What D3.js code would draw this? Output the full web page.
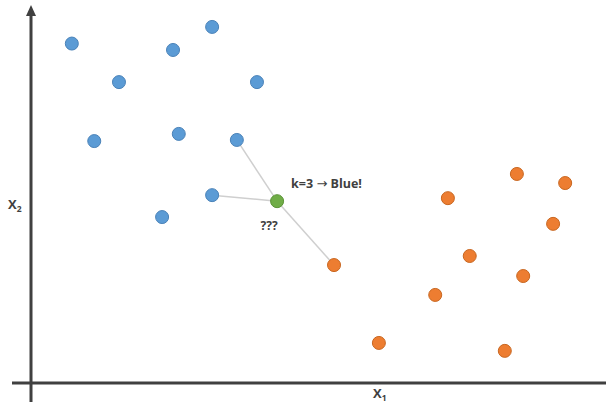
<!DOCTYPE html>
<html>
<head>
<meta charset="utf-8">
<script src="https://cdn.jsdelivr.net/npm/d3@7"></script>
<style>
  html, body { margin: 0; padding: 0; background: #fff; }
  svg { display: block; }
</style>
</head>
<body>
<svg id="chart" width="606" height="405"></svg>
<script>
// ---- data (abstract units 0..100 on each axis) ----
const blueX = [7.1, 24.7, 31.5, 15.3, 39.3, 11.0, 25.7, 35.8, 31.5, 22.8];
const blueY = [89.8, 88.1, 94.2, 79.6, 79.6, 64.0, 65.9, 64.3, 49.7, 43.9];
const orangeX = [52.7, 72.5, 84.5, 92.9, 90.8, 76.3, 85.6, 70.3, 60.5, 82.4];
const orangeY = [31.2, 48.9, 55.3, 52.9, 42.1, 33.6, 28.3, 23.3, 10.6, 8.5];
const queryX = [42.8];
const queryY = [48.1];
const k = 3;
const axisLabels = ["X", "1", "X", "2"];
const annotationParts = ["k=3 ", "\u2192", " Blue!"];
const queryLabel = "???";

// ---- layout ----
const svg = d3.select("#chart");
const W = 606, H = 405;
const x = d3.scaleLinear().domain([0, 100]).range([31, 606]);
const y = d3.scaleLinear().domain([0, 100]).range([383, 5]);

const blue = blueX.map((v, i) => ({x: v, y: blueY[i], c: "blue"}));
const orange = orangeX.map((v, i) => ({x: v, y: orangeY[i], c: "orange"}));
const query = {x: queryX[0], y: queryY[0]};
const all = blue.concat(orange);

const colors = {
  blue:   {fill: "#5b9bd5", stroke: "#4a82b8"},
  orange: {fill: "#ed7d31", stroke: "#c8661f"},
  green:  {fill: "#70ad47", stroke: "#5a9236"}
};

// axes
const axisColor = "#404040";
svg.append("line")
  .attr("x1", 12).attr("x2", W)
  .attr("y1", y(0)).attr("y2", y(0))
  .attr("stroke", axisColor).attr("stroke-width", 3);
svg.append("line")
  .attr("x1", x(0)).attr("x2", x(0))
  .attr("y1", 402).attr("y2", 14)
  .attr("stroke", axisColor).attr("stroke-width", 3);
svg.append("path")
  .attr("d", `M${x(0)},5 L${x(0) - 5},16 L${x(0) + 5},16 Z`)
  .attr("fill", axisColor);

// neighbours (nearest k in screen space)
const qx = x(query.x), qy = y(query.y);
const neighbours = all
  .map(d => ({d, dist: Math.hypot(x(d.x) - qx, y(d.y) - qy)}))
  .sort((a, b) => a.dist - b.dist)
  .slice(0, k)
  .map(o => o.d);

svg.append("g").selectAll("line").data(neighbours).join("line")
  .attr("x1", qx).attr("y1", qy)
  .attr("x2", d => x(d.x)).attr("y2", d => y(d.y))
  .attr("stroke", "#cfcfcf").attr("stroke-width", 1.5);

// points
const r = 6.5;
svg.append("g").selectAll("circle").data(all).join("circle")
  .attr("cx", d => x(d.x)).attr("cy", d => y(d.y)).attr("r", r)
  .attr("fill", d => colors[d.c].fill)
  .attr("stroke", d => colors[d.c].stroke).attr("stroke-width", 1);

svg.append("circle")
  .attr("cx", qx).attr("cy", qy).attr("r", r)
  .attr("fill", colors.green.fill)
  .attr("stroke", colors.green.stroke).attr("stroke-width", 1);

// annotations
const textColor = "#404040";
const font = "'Open Sans', 'Liberation Sans', sans-serif";
const ann = svg.append("text")
  .attr("x", qx + 14).attr("y", qy - 13)
  .attr("font-family", font).attr("font-weight", 700).attr("font-size", 12.5)
  .attr("fill", textColor);
ann.append("tspan").text(annotationParts[0]);
ann.append("tspan").attr("font-family", "'DejaVu Sans', sans-serif")
  .attr("font-weight", 400).attr("font-size", 13).text(annotationParts[1]);
ann.append("tspan").text(annotationParts[2]);

svg.append("text")
  .attr("x", qx - 8).attr("y", qy + 29)
  .attr("text-anchor", "middle")
  .attr("font-family", font).attr("font-weight", 700).attr("font-size", 12)
  .attr("fill", textColor)
  .text(queryLabel);

function axisLabel(px, py, main, sub) {
  const t = svg.append("text")
    .attr("x", px).attr("y", py)
    .attr("font-family", font).attr("font-weight", 700).attr("font-size", 13)
    .attr("fill", textColor);
  t.append("tspan").text(main);
  t.append("tspan").attr("font-size", 8.5).attr("dy", 3).text(sub);
}
axisLabel(373, 398, axisLabels[0], axisLabels[1]);
axisLabel(8, 209, axisLabels[2], axisLabels[3]);
</script>
</body>
</html>
